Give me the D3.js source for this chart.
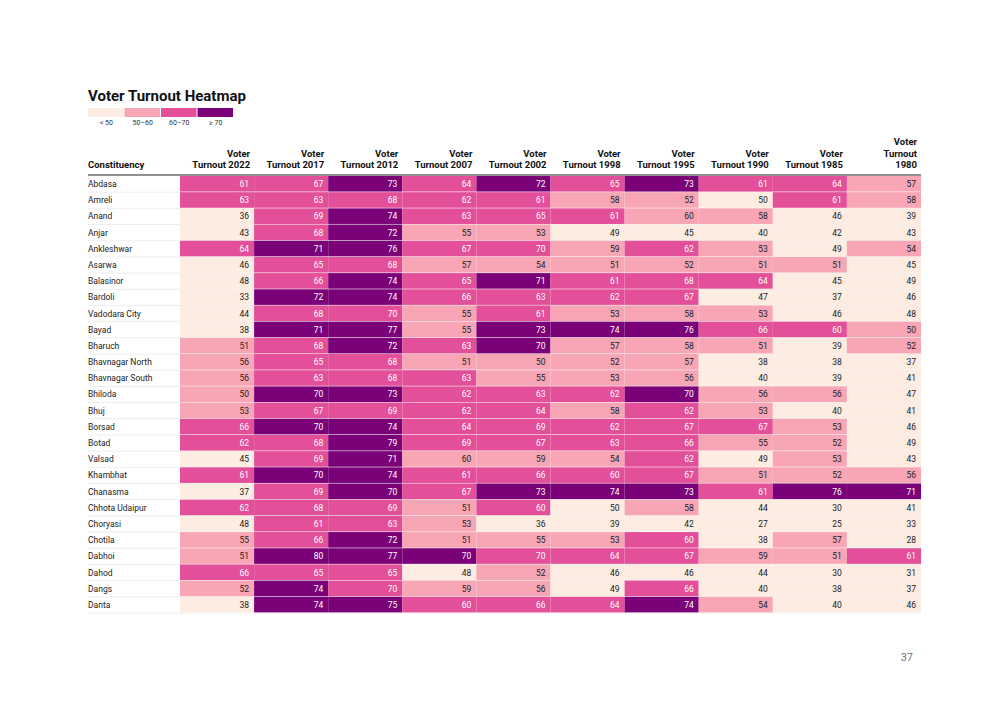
<!DOCTYPE html>
<html><head><meta charset="utf-8">
<script src="https://cdn.jsdelivr.net/npm/d3@7"></script>
<style>body{margin:0;background:#fff;font-family:Roboto,sans-serif}</style>
</head><body><svg id="c" width="1000" height="708"></svg>
<script>
const years=["2022","2017","2012","2007","2002","1998","1995","1990","1985","1980"];
const constituencies=["Abdasa","Amreli","Anand","Anjar","Ankleshwar","Asarwa","Balasinor","Bardoli","Vadodara City","Bayad","Bharuch","Bhavnagar North","Bhavnagar South","Bhiloda","Bhuj","Borsad","Botad","Valsad","Khambhat","Chanasma","Chhota Udaipur","Choryasi","Chotila","Dabhoi","Dahod","Dangs","Danta"];
const turnout=[
[61,67,73,64,72,65,73,61,64,57],
[63,63,68,62,61,58,52,49.8,61,58],
[36,69,74,63,65,61,59.8,58,46,39],
[43,68,72,55,53,49,45,40,42,43],
[64,71,76,67,69.8,59,62,53,49,54],
[46,65,68,57,54,51,52,51,51,45],
[48,66,74,65,71,61,68,64,45,49],
[33,72,74,66,63,62,67,47,37,46],
[44,68,69.8,55,61,53,58,53,46,48],
[38,71,77,55,73,74,76,66,60,50],
[51,68,72,63,70,57,58,51,39,52],
[56,65,68,51,50,52,57,38,38,37],
[56,63,68,63,55,53,56,40,39,41],
[50,70,73,62,63,62,70,56,56,47],
[53,67,69,62,64,58,62,53,40,41],
[66,70,74,64,69,62,67,67,53,46],
[62,68,79,69,67,63,66,55,52,49],
[45,69,71,59.8,59,54,62,49,53,43],
[61,70,74,61,66,60,67,51,52,56],
[37,69,70,67,73,74,73,61,76,71],
[62,68,69,51,60,49.8,58,44,30,41],
[48,61,63,53,36,39,42,27,25,33],
[55,66,72,51,55,53,60,38,57,28],
[51,80,77,70,69.8,64,67,59,51,61],
[66,65,65,48,52,46,46,44,30,31],
[52,74,69.8,59,56,49,66,40,38,37],
[38,74,75,60,66,64,74,54,40,46]];
const bins=[50,60,70];
const binLabels=["< 50","50–60","60–70","≥ 70"];
const colors=["#fdece2","#f8a6b6","#e34f98","#7a0177"];
const color=d3.scaleThreshold().domain(bins).range(colors);

const svg=d3.select("#c");
svg.append("text").attr("x",88).attr("y",101).attr("font-size",15).attr("font-weight",700).attr("fill","#111").text("Voter Turnout Heatmap");
const lx=d3.scaleBand().domain(binLabels).range([88,234]);
const lg=svg.append("g");
lg.selectAll("rect").data(binLabels).join("rect").attr("x",d=>lx(d)).attr("y",108).attr("width",lx.bandwidth()-1).attr("height",9).attr("fill",(d,i)=>colors[i]);
lg.selectAll("text").data(binLabels).join("text").attr("x",d=>lx(d)+lx.bandwidth()/2).attr("y",125).attr("text-anchor","middle").attr("font-size",7).attr("fill","#333").text(d=>d);

const x=d3.scaleBand().domain(years).range([180,921]);
const y=d3.scaleBand().domain(constituencies).range([176,613]);
// header
svg.append("text").attr("x",88).attr("y",168).attr("font-size",9.5).attr("font-weight",700).attr("fill","#111").text("Constituency");
years.forEach((yr,i)=>{
  const lines= i===years.length-1?["Voter","Turnout",yr]:["Voter","Turnout "+yr];
  const t=svg.append("text").attr("text-anchor","end").attr("font-size",9.5).attr("font-weight",700).attr("fill","#111");
  lines.forEach((l,j)=>t.append("tspan").attr("x",x(yr)+x.bandwidth()-4).attr("y",168-(lines.length-1-j)*11.5).text(l));
});
svg.append("line").attr("x1",88).attr("x2",921).attr("y1",175).attr("y2",175).attr("stroke","#222").attr("stroke-width",1.2);
const rows=svg.selectAll("g.row").data(constituencies).join("g").attr("class","row").attr("transform",d=>`translate(0,${y(d)})`);
rows.append("line").attr("x1",88).attr("x2",921).attr("y1",y.bandwidth()).attr("y2",y.bandwidth()).attr("stroke","#eee").attr("stroke-width",1);
rows.append("text").attr("x",88).attr("y",y.bandwidth()/2).attr("dy","0.35em").attr("font-size",8.5).attr("fill","#222").text(d=>d);
rows.each(function(c,ri){
  const g=d3.select(this);
  const cells=g.selectAll("g.cell").data(turnout[ri].map((v,j)=>({v,yr:years[j]}))).join("g");
  cells.append("rect").attr("x",d=>x(d.yr)).attr("y",0).attr("width",x.bandwidth()).attr("height",y.bandwidth()-0.6).attr("fill",d=>color(d.v));
  cells.append("text").attr("x",d=>x(d.yr)+x.bandwidth()-5).attr("y",y.bandwidth()/2).attr("dy","0.35em").attr("text-anchor","end").attr("font-size",8.5)
    .attr("fill",d=>d.v>=60?"#fff":"#222").text(d=>Math.round(d.v));
});
svg.append("text").attr("x",913).attr("y",661).attr("text-anchor","end").attr("font-size",11).attr("fill","#777").text("37");
</script></body></html>
